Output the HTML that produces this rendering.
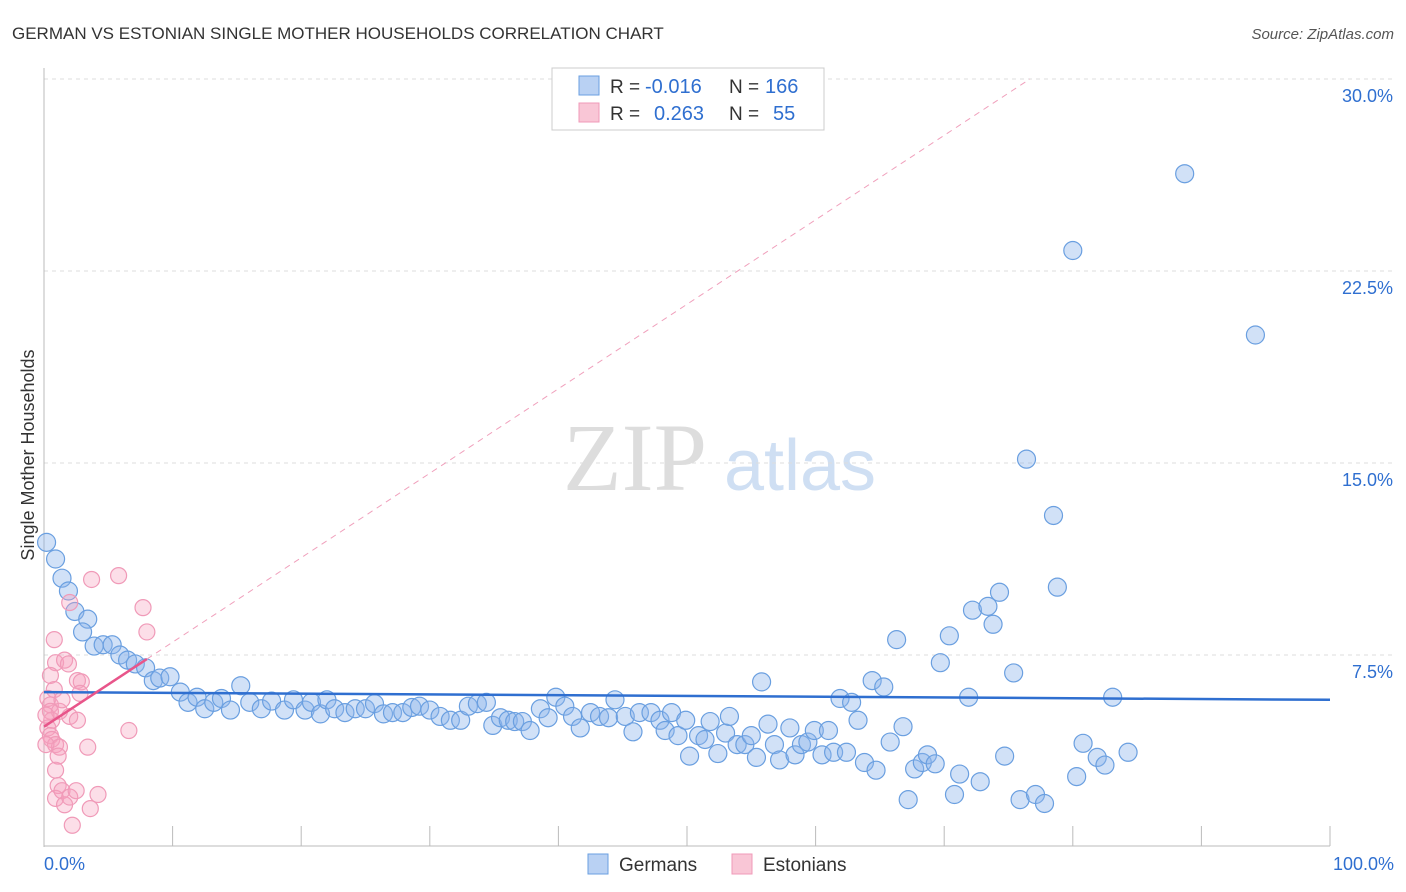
<!DOCTYPE html>
<html><head><meta charset="utf-8"><style>
body{margin:0;background:#fff;font-family:"Liberation Sans",sans-serif}
svg{display:block}
</style></head><body>
<svg id="c" width="1406" height="892" xmlns="http://www.w3.org/2000/svg">
<text x="12" y="39" font-size="17" fill="#333">GERMAN VS ESTONIAN SINGLE MOTHER HOUSEHOLDS CORRELATION CHART</text>
<text x="1394" y="39" font-size="15" fill="#555" text-anchor="end" font-style="italic">Source: ZipAtlas.com</text>
<text transform="translate(34,455) rotate(-90)" font-size="18" fill="#333" text-anchor="middle">Single Mother Households</text>
<g><text x="635" y="490" font-size="96" fill="#ddd" text-anchor="middle" font-family="Liberation Serif,serif">ZIP</text><text x="800" y="490" font-size="72" fill="#cfdff3" text-anchor="middle">atlas</text></g>
<g id="grid"></g><g id="axes"></g><g id="marks"></g>
<g>
<rect x="552" y="68" width="272" height="62" fill="#fff" stroke="#ccc"/>
<rect x="579" y="76" width="20" height="19" fill="#b9d1f3" stroke="#6a9fe0"/>
<rect x="579" y="103" width="20" height="19" fill="#f9c6d6" stroke="#f09ab8"/>
<text x="610" y="93" font-size="19" fill="#333">R =</text>
<text x="645" y="93" font-size="20" fill="#2f6fd0">-0.016</text>
<text x="729" y="93" font-size="19" fill="#333">N =</text>
<text x="765" y="93" font-size="20" fill="#2f6fd0">166</text>
<text x="610" y="120" font-size="19" fill="#333">R =</text>
<text x="654" y="120" font-size="20" fill="#2f6fd0">0.263</text>
<text x="729" y="120" font-size="19" fill="#333">N =</text>
<text x="773" y="120" font-size="20" fill="#2f6fd0">55</text>
</g>
<g>
<rect x="588" y="854" width="20" height="20" fill="#b9d1f3" stroke="#6a9fe0"/>
<text x="619" y="871" font-size="19" fill="#333">Germans</text>
<rect x="732" y="854" width="20" height="20" fill="#f9c6d6" stroke="#f09ab8"/>
<text x="763" y="871" font-size="19" fill="#333">Estonians</text>
</g>
</svg>
<script>
const yTicks=[7.5,15,22.5,30];
const yTickLabels=["7.5%","15.0%","22.5%","30.0%"];
const germansX=[0.2,0.9,1.4,1.9,2.4,3.4,3.0,3.9,4.6,5.3,5.9,6.5,7.1,7.9,8.5,9.0,9.8,10.6,11.2,11.9,12.5,13.2,13.8,14.5,15.3,16,16.9,17.7,18.7,19.4,20.3,20.8,21.5,22,22.6,23.4,24.2,25,25.7,26.4,27.1,27.9,28.6,29.2,30,30.8,31.6,32.4,33,33.7,34.4,34.9,35.5,36.1,36.6,37.2,37.8,38.6,39.2,39.8,40.5,41.1,41.7,42.5,43.2,43.9,44.4,45.2,45.8,46.3,47.2,47.9,48.3,48.8,49.3,49.9,50.2,50.9,51.4,51.8,52.4,53,53.3,53.9,54.5,55,55.4,55.8,56.3,56.8,57.2,58,58.4,58.9,59.4,59.9,60.5,61,61.4,61.9,62.4,62.8,63.3,63.8,64.4,64.7,65.3,65.8,66.3,66.8,67.2,67.7,68.3,68.7,69.3,69.7,70.4,70.8,71.2,71.9,72.2,72.8,73.4,73.8,74.3,74.7,75.4,75.9,76.4,77.1,77.8,78.5,78.8,80,80.3,80.8,81.9,82.5,83.1,84.3,88.7,94.2];
const germansY=[11.9,11.25,10.5,10.0,9.2,8.9,8.4,7.85,7.9,7.9,7.5,7.3,7.15,7.0,6.5,6.6,6.65,6.05,5.65,5.85,5.4,5.65,5.8,5.35,6.3,5.65,5.4,5.7,5.35,5.75,5.35,5.65,5.2,5.75,5.4,5.25,5.4,5.4,5.6,5.2,5.25,5.25,5.45,5.5,5.35,5.1,4.95,4.95,5.5,5.6,5.65,4.75,5.05,4.95,4.9,4.9,4.55,5.4,5.05,5.85,5.5,5.1,4.65,5.25,5.1,5.05,5.75,5.1,4.5,5.25,5.25,4.95,4.55,5.25,4.35,4.95,3.55,4.35,4.2,4.9,3.65,4.45,5.1,4.0,4.0,4.35,3.5,6.45,4.8,4.0,3.4,4.65,3.6,4.0,4.1,4.55,3.6,4.55,3.7,5.8,3.7,5.65,4.95,3.3,6.5,3.0,6.25,4.1,8.1,4.7,1.85,3.05,3.3,3.6,3.25,7.2,8.25,2.05,2.85,5.85,9.25,2.55,9.4,8.7,9.95,3.55,6.8,1.85,15.15,2.05,1.7,12.95,10.15,23.3,2.75,4.05,3.5,3.2,5.85,3.7,26.3,20.0];
const estoniansX=[0.8,0.9,1.6,1.9,0.5,0.8,0.3,0.5,0.5,0.6,0.3,0.5,0.6,0.9,1.2,1.1,0.9,1.1,0.9,1.4,1.6,2.0,2.2,2.5,2.0,2.6,2.6,2.9,2.8,3.4,3.7,2.0,3.6,4.2,5.8,6.6,7.7,8.0,1.2,1.4,0.15,0.15];
const estoniansY=[8.1,7.2,7.3,7.15,6.7,6.15,5.8,5.55,5.3,4.95,4.65,4.35,4.2,4.0,3.9,3.55,3.0,2.4,1.9,2.2,1.65,1.95,0.85,2.2,5.1,4.95,6.5,6.45,6.0,3.9,10.45,9.55,1.5,2.05,10.6,4.55,9.35,8.4,5.3,5.75,5.15,4.0];
const germanTrend=[6.05,5.75];
const estonianTrend=[4.7,0.33];
const NS="http://www.w3.org/2000/svg";
const X=v=>44+v*12.86, Y=v=>847-v*25.6;
function mk(t,a,p){const e=document.createElementNS(NS,t);for(const k in a)e.setAttribute(k,a[k]);p.appendChild(e);return e;}
const grid=document.getElementById('grid'),axes=document.getElementById('axes'),marks=document.getElementById('marks');
yTicks.forEach((t,i)=>{
 const l=mk('line',{x1:44,x2:1394,y1:Y(t),y2:Y(t),stroke:'#ddd','stroke-dasharray':'4,4'},grid);
 
 
 const tx=mk('text',{x:1393,y:Y(t)+23,'font-size':18,fill:'#2f6fd0','text-anchor':'end'},axes);
 tx.textContent=yTickLabels[i];
 
 
});
mk('line',{x1:44,x2:44,y1:68,y2:847,stroke:'#bbb'},axes);
mk('line',{x1:44,x2:1330,y1:846,y2:846,stroke:'#bbb'},axes);
for(let i=1;i<=10;i++){mk('line',{x1:X(i*10),x2:X(i*10),y1:826,y2:846,stroke:'#bbb'},axes);}
let t0=mk('text',{x:44,y:870,'font-size':18,fill:'#2f6fd0'},axes);t0.textContent='0.0%';


let t1=mk('text',{x:1394,y:870,'font-size':18,fill:'#2f6fd0','text-anchor':'end'},axes);t1.textContent='100.0%';


germansX.forEach((x,i)=>{const c=mk('circle',{cx:X(x),cy:Y(germansY[i]),r:9,fill:'rgba(140,180,235,0.4)',stroke:'#6a9fe0','stroke-width':1.2},marks);
 
 });
estoniansX.forEach((x,i)=>{const c=mk('circle',{cx:X(x),cy:Y(estoniansY[i]),r:8,fill:'rgba(245,160,190,0.35)',stroke:'#f09ab8','stroke-width':1.2},marks);
 
 });
const gl=mk('line',{x1:X(0),y1:Y(germanTrend[0]),x2:X(100),y2:Y(germanTrend[1]),stroke:'#2f6fd0','stroke-width':2.5},marks);


const xe=(30-estonianTrend[0])/estonianTrend[1];
const ed=mk('line',{x1:X(8),y1:Y(estonianTrend[0]+8*estonianTrend[1]),x2:X(xe),y2:Y(30),stroke:'#f0a0bc','stroke-width':1,'stroke-dasharray':'6,5'},marks);


const es=mk('line',{x1:X(0),y1:Y(estonianTrend[0]),x2:X(8),y2:Y(estonianTrend[0]+8*estonianTrend[1]),stroke:'#e8558a','stroke-width':2.5},marks);


</script>
</body></html>
